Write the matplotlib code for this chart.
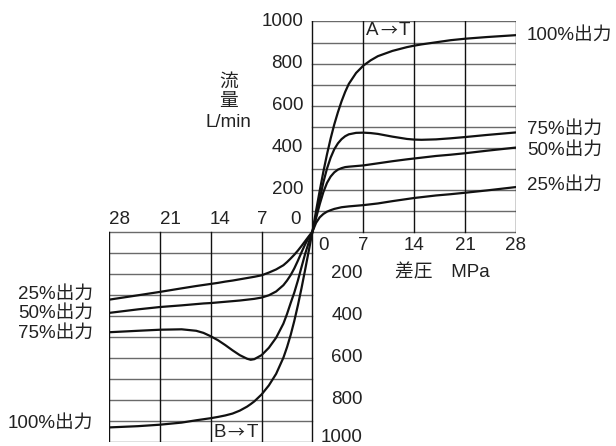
import matplotlib
matplotlib.use("Agg")
import matplotlib.pyplot as plt

plt.rcParams['font.family'] = ['Liberation Sans', 'Noto Sans CJK JP', 'DejaVu Sans']

# differential pressure (MPa), negative side = B->T
dp = [-28, -24, -21, -18, -16, -15, -14, -13, -12, -11, -10, -9, -8.5, -8, -7, -6, -5, -4, -3.5, -3, -2.5, -2, -1.5, -1, -0.5,
      0,
      0.5, 1, 1.5, 2, 2.5, 3, 3.5, 4, 4.5, 5, 6, 7, 8, 9, 11, 13, 14, 15, 17, 19, 21, 24, 28]

# flow (L/min) per output level
flow_100 = [-932, -926, -919, -909, -898, -893, -888, -882, -875, -866, -852, -833, -821, -808, -775, -732, -677, -600, -550,
            -492, -425, -350, -268, -180, -90,
            0,
            100, 195, 285, 368, 443, 510, 568, 620, 665, 703, 755, 790, 815, 835, 860, 878, 885, 891, 901, 911, 918, 926, 935]
flow_75 = [-479, -472, -467, -465, -472, -482, -498, -517, -540, -565, -588, -605, -610, -607, -588, -553, -505, -438, -392,
           -340, -290, -232, -168, -105, -50,
           0,
           75, 155, 235, 300, 352, 392, 420, 440, 454, 463, 470, 471, 469, 465, 452, 441, 438, 437, 439, 444, 450, 460, 472]
flow_50 = [-387, -370, -359, -351, -345, -342, -340, -337, -334, -331, -328, -324, -322, -320, -314, -303, -285, -255, -233,
           -207, -175, -138, -98, -60, -28,
           0,
           65, 130, 188, 232, 262, 282, 295, 302, 307, 309, 312, 315, 320, 325, 335, 344, 348, 352, 360, 366, 373, 385, 400]
flow_25 = [-324, -303, -287, -270, -259, -254, -249, -244, -238, -233, -227, -221, -218, -215, -208, -195, -180, -160, -145,
           -128, -110, -90, -68, -45, -22,
           0,
           42, 68, 84, 95, 102, 108, 112, 116, 118, 120, 123, 126, 130, 134, 145, 155, 160, 164, 172, 178, 185, 196, 212]

curves = [flow_100, flow_75, flow_50, flow_25]
right_labels = ['100%出力', '75%出力', '50%出力', '25%出力']
right_label_y = [936, 488, 388, 221]
left_labels = ['25%出力', '50%出力', '75%出力', '100%出力']
left_label_y = [-298, -389, -484, -913]

x_ticks = [0, 7, 14, 21, 28]
y_ticks = [0, 100, 200, 300, 400, 500, 600, 700, 800, 900, 1000]
y_labels = [200, 400, 600, 800, 1000]

fig = plt.figure(figsize=(6.16, 4.46), dpi=100)
ax = fig.add_axes([0.1769, 0.0096, 0.6607, 0.9422])
ax.set_xlim(-28, 28)
ax.set_ylim(-1000, 1000)
ax.axis('off')

# grid: upper right (A->T) and lower left (B->T) quadrants
for s in (1, -1):
    for v in y_ticks:
        ax.plot([0, s * 28], [s * v, s * v], color='#6a6a6a', lw=1.0, zorder=1)
    for v in x_ticks:
        ax.plot([s * v, s * v], [0, s * 1000], color='#111111', lw=1.0, zorder=1)

for fl in curves:
    ax.plot(dp, fl, color='#111111', lw=1.6, zorder=3, solid_capstyle='round',
            solid_joinstyle='round')

fs = 13.5
tc = '#222222'
# upper y labels
for v in y_labels:
    ax.text(-1.3, v, str(v), ha='right', va='center', fontsize=fs, color=tc)
# lower y labels
for v in y_labels:
    yy = -v if v < 1000 else -980
    ax.text(6.95, yy, str(v), ha='right', va='center', fontsize=fs, color=tc)

# x labels of upper right quadrant
for v in x_ticks:
    xx = v if v > 0 else 1.5
    ax.text(xx, -68, str(v), ha='center', va='center', fontsize=fs, color=tc)
# x labels of lower left quadrant
ll_x = [-26.6, -19.6, -12.7, -6.95, -2.27]
for xx, v in zip(ll_x, x_ticks[::-1]):
    ax.text(xx, 60, str(v), ha='center', va='center', fontsize=fs, color=tc)

ax.text(-11.5, 712, '流', ha='center', va='center', fontsize=fs, color=tc)
ax.text(-11.5, 617, '量', ha='center', va='center', fontsize=fs, color=tc)
ax.text(-11.5, 521, 'L/min', ha='center', va='center', fontsize=fs, color=tc)
ax.text(11.35, -197, '差圧　MPa', ha='left', va='center', fontsize=fs, color=tc)


def flow_dir(xc, yc, src):
    # "X→T" tag built from three pieces so the arrow can be larger
    ax.text(xc - 1.4, yc, src, ha='right', va='center', fontsize=fs, color=tc)
    ax.text(xc, yc, '→', ha='center', va='center', fontsize=fs * 0.9, color=tc,
            family=['Noto Sans CJK JP'])
    ax.text(xc + 1.4, yc, 'T', ha='left', va='center', fontsize=fs, color=tc)


flow_dir(10.5, 958, 'A')
flow_dir(-10.5, -955, 'B')

for lab, yy in zip(right_labels, right_label_y):
    ax.text(29.5, yy, lab, ha='left', va='center', fontsize=fs, color=tc, clip_on=False)
for lab, yy in zip(left_labels, left_label_y):
    ax.text(-30.2, yy, lab, ha='right', va='center', fontsize=fs, color=tc, clip_on=False)

fig.savefig('out.png', dpi=100)
